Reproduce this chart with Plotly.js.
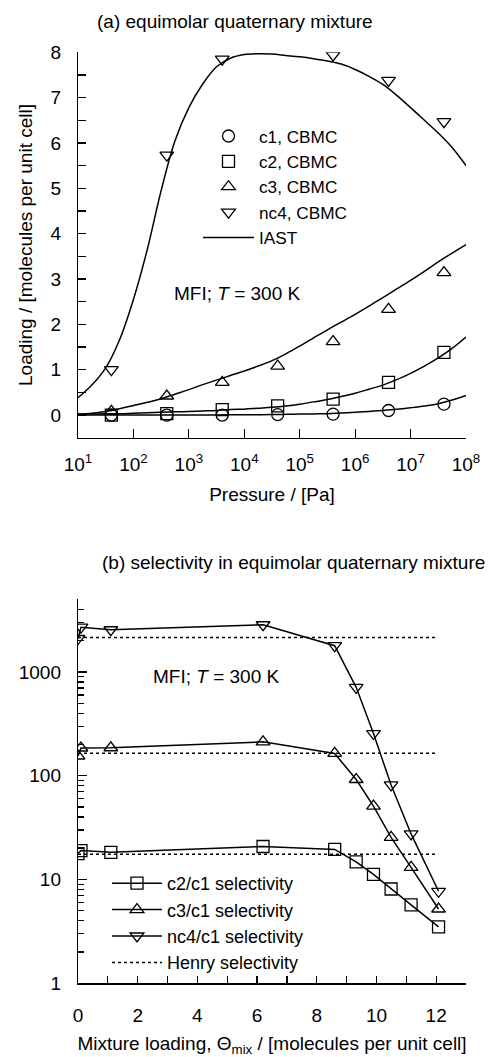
<!DOCTYPE html>
<html>
<head>
<meta charset="utf-8">
<script src="https://cdn.plot.ly/plotly-3.0.1.min.js"></script>
<style>html,body{margin:0;padding:0;background:#fff;}#chart{width:502px;height:1057px;}</style>
</head>
<body>
<div id="chart"></div>
<script>
// ---------- (a) loading vs pressure ----------
var P_cbmc = [40, 400, 4000, 40000, 400000, 4000000, 40000000];
var c1_cbmc = [0.0, 0.0, 0.0, 0.01, 0.02, 0.10, 0.24];
var c2_cbmc = [0.0, 0.03, 0.12, 0.20, 0.35, 0.72, 1.38];
var c3_cbmc = [0.08, 0.42, 0.72, 1.08, 1.62, 2.33, 3.14];
var nc4_cbmc = [1.0, 5.73, 7.85, null, 7.94, 7.38, 6.47];

var P_iast = [10, 17.78, 31.62, 56.23, 100, 177.8, 316.2, 562.3, 1000, 1778, 3162, 5623,
  10000, 17783, 31623, 56234, 100000, 177828, 316228, 562341, 1000000, 1778279, 3162278, 5623413,
  10000000, 17782794, 31622777, 56234133, 100000000];
var c1_iast = [0.0, 0.0, 0.0, 0.0, 0.0, 0.0, 0.0, 0.0, 0.0, 0.0, 0.003, 0.004,
  0.005, 0.007, 0.01, 0.015, 0.02, 0.025, 0.03, 0.045, 0.06, 0.08, 0.10, 0.125,
  0.16, 0.20, 0.25, 0.33, 0.43];
var c2_iast = [0.02, 0.02, 0.03, 0.03, 0.04, 0.05, 0.06, 0.07, 0.08, 0.09, 0.10, 0.12,
  0.13, 0.15, 0.17, 0.20, 0.24, 0.29, 0.34, 0.41, 0.48, 0.57, 0.66, 0.78,
  0.92, 1.08, 1.26, 1.47, 1.72];
var c3_iast = [0.02, 0.04, 0.08, 0.14, 0.21, 0.28, 0.36, 0.46, 0.56, 0.67, 0.77, 0.87,
  0.97, 1.08, 1.20, 1.35, 1.52, 1.70, 1.88, 2.05, 2.22, 2.40, 2.59, 2.78,
  2.97, 3.17, 3.38, 3.57, 3.76];
var nc4_iast = [0.38, 0.66, 1.04, 1.66, 2.55, 3.65, 4.95, 6.05, 6.78, 7.30, 7.68, 7.87,
  7.95, 7.97, 7.96, 7.93, 7.90, 7.86, 7.81, 7.74, 7.62, 7.47, 7.29, 7.05,
  6.78, 6.50, 6.22, 5.90, 5.50];

var pTickVals = [10, 100, 1000, 10000, 100000, 1000000, 10000000, 100000000];
var pTickText = ['10<sup>1</sup>', '10<sup>2</sup>', '10<sup>3</sup>', '10<sup>4</sup>', '10<sup>5</sup>', '10<sup>6</sup>', '10<sup>7</sup>', '10<sup>8</sup>'];

// ---------- (b) selectivity vs mixture loading ----------
var theta_mix = [0, 0.1, 1.1, 6.2, 8.6, 9.32, 9.9, 10.49, 11.16, 12.08];
var sel_c2c1 = [17.8, 19.0, 18.3, 20.8, 19.5, 14.8, 11.2, 8.1, 5.7, 3.5];
var sel_c3c1 = [155, 185, 186, 212, 164, 92, 51, 25.5, 13.1, 5.2];
var sel_nc4c1 = [2100, 2700, 2550, 2850, 1790, 711, 255, 81.5, 27.5, 7.7];
var henry_x = [0, 12];
var henry_c2c1 = [17.5, 17.5];
var henry_c3c1 = [165, 165];
var henry_nc4c1 = [2150, 2150];
var selTickVals = [1, 10, 100, 1000];
var selTickText = ['1', '10', '100', '1000'];

var FONT = 'Liberation Sans, Arial, Helvetica, sans-serif';
var FS = 19;
var K = '#000';

function mk(sym) {
  return {symbol: sym, size: 12, color: K, line: {color: K, width: 1.3}};
}
var iastLine = {color: K, width: 1.5, shape: 'spline', smoothing: 1};

var traces = [
  {x: P_cbmc, y: c1_cbmc, mode: 'markers', name: 'c1, CBMC', marker: mk('circle-open'), xaxis: 'x', yaxis: 'y', legend: 'legend'},
  {x: P_cbmc, y: c2_cbmc, mode: 'markers', name: 'c2, CBMC', marker: mk('square-open'), xaxis: 'x', yaxis: 'y', legend: 'legend'},
  {x: P_cbmc, y: c3_cbmc, mode: 'markers', name: 'c3, CBMC', marker: mk('triangle-up-open'), xaxis: 'x', yaxis: 'y', legend: 'legend'},
  {x: P_cbmc, y: nc4_cbmc, mode: 'markers', name: 'nc4, CBMC', marker: mk('triangle-down-open'), xaxis: 'x', yaxis: 'y', legend: 'legend'},
  {x: P_iast, y: c1_iast, mode: 'lines', name: 'IAST', line: iastLine, xaxis: 'x', yaxis: 'y', legend: 'legend', legendgroup: 'iast'},
  {x: P_iast, y: c2_iast, mode: 'lines', name: 'IAST', line: iastLine, xaxis: 'x', yaxis: 'y', showlegend: false, legendgroup: 'iast'},
  {x: P_iast, y: c3_iast, mode: 'lines', name: 'IAST', line: iastLine, xaxis: 'x', yaxis: 'y', showlegend: false, legendgroup: 'iast'},
  {x: P_iast, y: nc4_iast, mode: 'lines', name: 'IAST', line: iastLine, xaxis: 'x', yaxis: 'y', showlegend: false, legendgroup: 'iast'},

  {x: theta_mix, y: sel_c2c1, mode: 'lines+markers', name: 'c2/c1 selectivity', marker: mk('square-open'), line: {color: K, width: 1.5}, xaxis: 'x2', yaxis: 'y2', legend: 'legend2'},
  {x: theta_mix, y: sel_c3c1, mode: 'lines+markers', name: 'c3/c1 selectivity', marker: mk('triangle-up-open'), line: {color: K, width: 1.5}, xaxis: 'x2', yaxis: 'y2', legend: 'legend2'},
  {x: theta_mix, y: sel_nc4c1, mode: 'lines+markers', name: 'nc4/c1 selectivity', marker: mk('triangle-down-open'), line: {color: K, width: 1.5}, xaxis: 'x2', yaxis: 'y2', legend: 'legend2'},
  {x: henry_x, y: henry_c2c1, mode: 'lines', name: 'Henry selectivity', line: {color: K, width: 1.5, dash: 'dot'}, xaxis: 'x2', yaxis: 'y2', legend: 'legend2', legendgroup: 'henry'},
  {x: henry_x, y: henry_c3c1, mode: 'lines', name: 'Henry selectivity', line: {color: K, width: 1.5, dash: 'dot'}, xaxis: 'x2', yaxis: 'y2', showlegend: false, legendgroup: 'henry'},
  {x: henry_x, y: henry_nc4c1, mode: 'lines', name: 'Henry selectivity', line: {color: K, width: 1.5, dash: 'dot'}, xaxis: 'x2', yaxis: 'y2', showlegend: false, legendgroup: 'henry'}
];

var W = 502, H = 1057;
function px(x) { return x / W; }
function py(y) { return 1 - y / H; }

var axBase = {
  showgrid: false, zeroline: false, showline: true, linecolor: K, linewidth: 1.2,
  ticks: 'inside', tickcolor: K, tickwidth: 1.2, mirror: false,
  tickfont: {family: FONT, size: FS, color: K}
};

var layout = {
  width: W, height: H,
  margin: {l: 0, r: 0, t: 0, b: 0},
  paper_bgcolor: '#fff', plot_bgcolor: 'rgba(0,0,0,0)',
  font: {family: FONT, size: FS, color: K},
  showlegend: true,
  xaxis: Object.assign({}, axBase, {
    type: 'log', range: [1, 8], domain: [px(78), px(466)], anchor: 'y',
    tickvals: pTickVals, ticktext: pTickText, ticklen: 9, ticklabelstandoff: 9,
    title: {text: 'Pressure / [Pa]', font: {family: FONT, size: FS, color: K}, standoff: 14}
  }),
  yaxis: Object.assign({}, axBase, {
    range: [-0.5, 8], domain: [py(437.7), py(52.3)], anchor: 'x',
    dtick: 1, tick0: 0, ticklen: 8, ticklabelstandoff: 12,
    minor: {dtick: 0.5, ticks: 'inside', ticklen: 8, tickcolor: K, tickwidth: 1.2},
    title: {text: 'Loading / [molecules per unit cell]', font: {family: FONT, size: FS, color: K}, standoff: 12}
  }),
  xaxis2: Object.assign({}, axBase, {
    range: [0, 13], domain: [px(78), px(466)], anchor: 'y2',
    dtick: 2, tick0: 0, ticklen: 7, ticklabelstandoff: 15,
    minor: {dtick: 1, ticks: 'inside', ticklen: 7, tickcolor: K, tickwidth: 1.2},
    title: {text: 'Mixture loading, \u0398<sub>mix</sub> / [molecules per unit cell]', font: {family: FONT, size: FS, color: K}, standoff: 12}
  }),
  yaxis2: Object.assign({}, axBase, {
    type: 'log', range: [0, 3.7], domain: [py(983.3), py(599.3)], anchor: 'x2',
    tickvals: selTickVals, ticktext: selTickText, ticklen: 9, ticklabelstandoff: 12,
    minor: {dtick: 'D1', ticks: 'inside', ticklen: 6, tickcolor: K, tickwidth: 1.2}
  }),
  legend: {
    x: px(198), y: py(118.3), xanchor: 'left', yanchor: 'top',
    bgcolor: 'rgba(0,0,0,0)', borderwidth: 0,
    font: {family: FONT, size: 17.2, color: K}, itemwidth: 51, tracegroupgap: 0
  },
  legend2: {
    x: px(107), y: py(865), xanchor: 'left', yanchor: 'top',
    bgcolor: 'rgba(0,0,0,0)', borderwidth: 0,
    font: {family: FONT, size: 18, color: K}, itemwidth: 50, tracegroupgap: 0
  },
  annotations: [
    {text: '(a) equimolar quaternary mixture', xref: 'paper', yref: 'paper', x: px(234.5), y: py(22), xanchor: 'center', yanchor: 'middle', showarrow: false, font: {family: FONT, size: FS, color: K}},
    {text: '(b) selectivity in equimolar quaternary mixture', xref: 'paper', yref: 'paper', x: px(293), y: py(562), xanchor: 'center', yanchor: 'middle', showarrow: false, font: {family: FONT, size: FS, color: K}},
    {text: 'MFI; <i>T</i> = 300 K', xref: 'paper', yref: 'paper', x: px(237), y: py(293.3), xanchor: 'center', yanchor: 'middle', showarrow: false, font: {family: FONT, size: FS, color: K}},
    {text: 'MFI; <i>T</i> = 300 K', xref: 'paper', yref: 'paper', x: px(216.7), y: py(676.7), xanchor: 'center', yanchor: 'middle', showarrow: false, font: {family: FONT, size: FS, color: K}}
  ]
};

Plotly.newPlot('chart', traces, layout, {staticPlot: true, displayModeBar: false});
</script>
</body>
</html>
